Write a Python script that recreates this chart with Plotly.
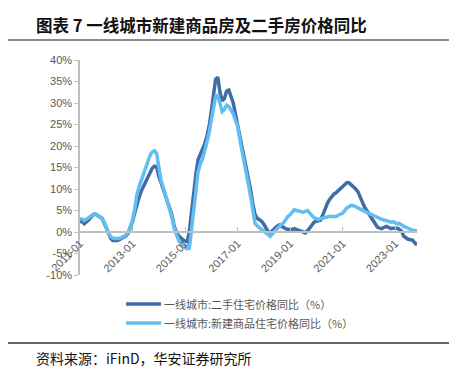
import plotly.graph_objects as go
import pandas as pd

months = pd.date_range("2011-01-01", "2023-11-01", freq="MS").strftime("%Y-%m-%d").tolist()

# 一线城市:二手住宅价格同比(%)
second_hand = [
    2.3, 2.5, 1.9, 2.3, 2.8, 3.4, 4.0, 4.2, 3.9, 3.5, 3.2, 2.2,        # 2011
    0.8, -0.5, -1.4, -2.0, -2.1, -2.0, -1.8, -1.5, -1.3, -0.9, -0.3, 1.0,  # 2012
    2.5, 4.5, 6.5, 8.0, 9.5, 10.6, 11.8, 13.0, 14.2, 14.8, 15.3, 15.2,  # 2013
    13.0, 11.5, 10.0, 8.5, 7.0, 5.8, 4.0, 1.5, 0.0, -0.8, -1.4, -1.8,  # 2014
    -2.1, -2.3, 0.0, 5.0, 9.5, 13.5, 16.8, 18.0, 19.0, 20.5, 22.3, 24.5,  # 2015
    28.0, 32.0, 35.5, 36.0, 32.5, 30.5, 31.0, 32.8, 33.0, 31.5, 30.0, 27.5,  # 2016
    25.0, 22.0, 19.5, 16.8, 14.5, 12.0, 9.8, 6.5, 4.0, 3.2, 2.9, 2.5,  # 2017
    1.8, 0.8, 0.1, -0.2, 0.3, 0.9, 1.3, 1.6, 1.3, 0.9, 0.8, 0.6,       # 2018
    0.5, 0.6, 0.8, 0.5, 0.4, 0.2, -0.1, -0.2, 0.3, 1.0, 1.6, 2.3,      # 2019
    2.5, 2.6, 2.8, 4.0, 5.6, 6.6, 7.5, 8.2, 8.8, 9.1, 9.6, 10.2,       # 2020
    10.6, 11.0, 11.5, 11.4, 11.0, 10.6, 10.0, 9.4, 8.4, 7.0, 5.8, 5.0,  # 2021
    4.2, 3.4, 2.6, 1.8, 1.1, 0.9, 0.8, 1.1, 1.3, 1.1, 0.8, 0.9,        # 2022
    1.0, 0.9, 0.6, 0.2, -1.0, -1.4, -1.7, -1.8, -1.9, -2.5, -3.0,      # 2023
]

# 一线城市:新建商品住宅价格同比(%)
new_home = [
    3.1, 3.0, 2.7, 2.9, 3.3, 3.7, 4.1, 4.2, 3.9, 3.6, 3.3, 2.4,        # 2011
    1.0, -0.2, -1.0, -1.4, -1.5, -1.6, -1.5, -1.3, -1.0, -0.7, -0.1, 1.2,  # 2012
    2.8, 5.5, 8.5, 10.5, 12.0, 13.3, 14.8, 16.3, 17.8, 18.6, 18.9, 18.3,  # 2013
    14.5, 12.0, 10.5, 8.8, 7.2, 5.8, 3.5, 1.0, -0.5, -1.8, -2.8, -3.3,  # 2014
    -3.6, -3.9, -3.8, 0.5, 5.0, 9.5, 14.0, 15.8, 17.0, 18.8, 20.7, 23.0,  # 2015
    26.0, 29.0, 31.5, 31.8, 29.5, 28.0, 28.5, 29.5, 29.2, 28.5, 27.5, 26.0,  # 2016
    24.6, 21.5, 18.8, 16.0, 13.5, 11.0, 8.3, 5.0, 2.0, 1.4, 1.0, 0.6,  # 2017
    0.3, 0.0, -0.4, -1.0, -0.4, 0.2, 0.8, 1.3, 1.8, 2.1, 3.0, 3.6,     # 2018
    4.0, 4.6, 5.2, 5.0, 4.8, 4.6, 4.6, 4.8, 5.0, 4.4, 3.9, 3.3,        # 2019
    3.1, 2.9, 3.1, 3.3, 3.4, 3.5, 3.6, 3.6, 3.6, 3.6, 3.9, 4.2,        # 2020
    4.4, 5.0, 5.6, 5.9, 6.2, 6.1, 5.9, 5.7, 5.5, 5.1, 4.8, 4.5,        # 2021
    4.3, 4.1, 3.9, 3.6, 3.3, 3.1, 2.9, 2.8, 2.6, 2.5, 2.3, 2.4,        # 2022
    2.2, 1.9, 2.0, 1.6, 1.3, 1.1, 0.8, 0.6, 0.4, 0.3, 0.3,             # 2023
]

tick_vals = ["2011-01-01", "2013-01-01", "2015-01-01", "2017-01-01",
             "2019-01-01", "2021-01-01", "2023-01-01"]
tick_text = ["2011-01", "2013-01", "2015-01", "2017-01", "2019-01", "2021-01", "2023-01"]
y_ticks = [-10, -5, 0, 5, 10, 15, 20, 25, 30, 35, 40]
y_tick_text = [f"{v}%" for v in y_ticks]

names = ["一线城市:二手住宅价格同比（%）", "一线城市:新建商品住宅价格同比（%）"]
colors = ["#3F6DA6", "#62BDF0"]

W, H = 457, 370
L, R, T, B = 72, 48, 52, 103
pw, ph = W - L - R, H - T - B

def px_x(px):
    return (px - L) / pw

def px_y(py):
    return (H - B - py) / ph

fig = go.Figure()
fig.add_trace(go.Scatter(x=months, y=second_hand, mode="lines", name=names[0],
                         line=dict(color=colors[0], width=3.5)))
fig.add_trace(go.Scatter(x=months, y=new_home, mode="lines", name=names[1],
                         line=dict(color=colors[1], width=3.5)))

axis_grey = "#BFBFBF"
text_grey = "#595959"
ymin, ymax = -10, 40

fig.update_layout(
    width=W, height=H,
    margin=dict(l=L, r=R, t=T, b=B),
    paper_bgcolor="white", plot_bgcolor="white",
    font=dict(family="Liberation Sans, Arial, Noto Sans CJK SC", color=text_grey, size=11),
    showlegend=False,
    xaxis=dict(type="date", range=[months[0], months[-1]],
               tickvals=tick_vals, ticktext=tick_text, tickangle=-45,
               showgrid=False, zeroline=False,
               showline=True, linecolor=axis_grey, linewidth=1.5,
               ticks="inside", ticklen=4, tickcolor=axis_grey,
               anchor="free", position=(0 - ymin) / (ymax - ymin),
               tickfont=dict(family="Liberation Sans, Arial", size=11, color=text_grey)),
    yaxis=dict(range=[ymin, ymax], tickvals=y_ticks, ticktext=y_tick_text,
               showgrid=False, zeroline=False,
               showline=True, linecolor=axis_grey, linewidth=1.5,
               ticks="outside", ticklen=4, tickcolor=axis_grey,
               tickfont=dict(family="Liberation Sans, Arial", size=11, color=text_grey)),
)

# manual legend
legend_rows = [296, 315]
for name, color, ly in zip(names, colors, legend_rows):
    fig.add_shape(type="line", xref="paper", yref="paper",
                  x0=px_x(118), x1=px_x(153), y0=px_y(ly), y1=px_y(ly),
                  line=dict(color=color, width=3.5))
    fig.add_annotation(text=name, xref="paper", yref="paper",
                       x=px_x(154), y=px_y(ly), xanchor="left", yanchor="middle",
                       showarrow=False,
                       font=dict(family="Noto Sans CJK SC", size=11, color=text_grey))

# title
fig.add_annotation(text="<b>图表 7 一线城市新建商品房及二手房价格同比</b>",
                   xref="paper", yref="paper", x=px_x(26), y=px_y(17),
                   xanchor="left", yanchor="middle", showarrow=False,
                   font=dict(family="Noto Sans CJK SC", size=16.5, color="#111111"))
# source
fig.add_annotation(text="资料来源：iFinD，华安证券研究所",
                   xref="paper", yref="paper", x=px_x(26), y=px_y(350),
                   xanchor="left", yanchor="middle", showarrow=False,
                   font=dict(family="Noto Sans CJK SC", size=14, color="#111111"))
# rules
fig.add_shape(type="line", xref="paper", yref="paper",
              x0=px_x(0), x1=px_x(W), y0=px_y(32), y1=px_y(32),
              line=dict(color="#8C8C8C", width=2))
fig.add_shape(type="line", xref="paper", yref="paper",
              x0=px_x(0), x1=px_x(W), y0=px_y(335), y1=px_y(335),
              line=dict(color="#333333", width=1.5))

fig.write_html("out.html")
